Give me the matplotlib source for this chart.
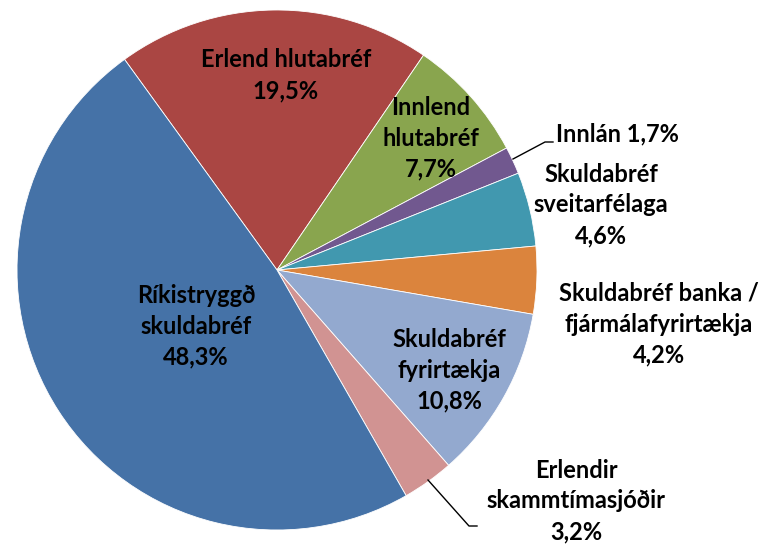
import matplotlib.pyplot as plt

plt.rcParams['font.family'] = ['Lato', 'DejaVu Sans']

# slices, clockwise from the red one
labels = ['Erlend hlutabréf', 'Innlend\nhlutabréf', 'Innlán', 'Skuldabréf\nsveitarfélaga',
          'Skuldabréf banka /\nfjármálafyrirtækja', 'Skuldabréf\nfyrirtækja',
          'Erlendir\nskammtímasjóðir', 'Ríkistryggð\nskuldabréf']
values = [19.5, 7.7, 1.7, 4.6, 4.2, 10.8, 3.2, 48.3]
colors = ['#AA4643', '#89A54E', '#71588F', '#4198AF', '#DB843D', '#93A9CF', '#D19392', '#4572A7']

fig = plt.figure(figsize=(7.61, 5.46), dpi=100)
W, H = 761, 546
cx, cy, R = 277, 270, 260
ax = fig.add_axes([(cx - R) / W, (H - cy - R) / H, 2 * R / W, 2 * R / H])

wedges, _ = ax.pie(values, colors=colors, startangle=125.9, counterclock=False,
                   radius=1, wedgeprops=dict(edgecolor='white', linewidth=0.6))
ax.set_xlim(-1, 1)
ax.set_ylim(-1, 1)
ax.set_aspect('equal')
ax.axis('off')

FS = 17
LS = 1.42


def px(x, y):
    # pixel position -> data coords of the pie axes
    return (x - cx) / R, (cy - y) / R


def pct(v):
    return ('%.1f%%' % v).replace('.', ',')


# label centres in pixels
pos = [(286, 75), (431, 138), None, (601, 205), (659, 324), (449, 370), (576, 501), (196, 326)]
for lab, v, p in zip(labels, values, pos):
    if p is None:
        continue
    x, y = px(*p)
    ax.text(x, y, lab + '\n' + pct(v), ha='center', va='center', fontsize=FS,
            fontweight='bold', linespacing=LS, clip_on=False)

# small slices with leader lines
x, y = px(556, 134)
ax.text(x, y, 'Innlán ' + pct(values[2]), ha='left', va='center', fontsize=FS,
        fontweight='bold', clip_on=False)
lx = [px(513, 159), px(545, 142), px(553, 142)]
ax.plot([a for a, b in lx], [b for a, b in lx], color='black', lw=1, clip_on=False)

lx = [px(428, 480), px(469, 526), px(477, 526)]
ax.plot([a for a, b in lx], [b for a, b in lx], color='black', lw=1, clip_on=False)

fig.savefig('out.png', dpi=100)
